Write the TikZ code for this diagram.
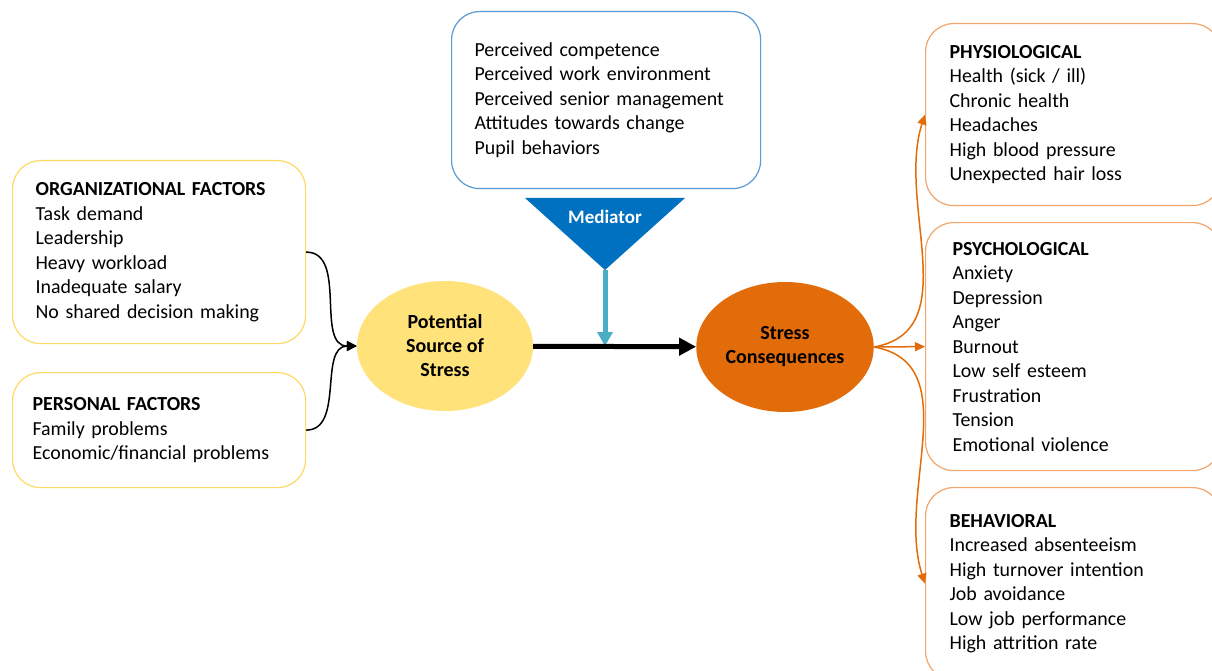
\documentclass[tikz,border=0pt]{standalone}
\usepackage{fontspec}
\setmainfont{Carlito}
\usetikzlibrary{arrows.meta}
\usetikzlibrary{positioning}
\usetikzlibrary{shapes.geometric}
\definecolor{mgold}{HTML}{FFD966}
\definecolor{mblue}{HTML}{5B9BD5}
\definecolor{mdarkblue}{HTML}{0070C0}
\definecolor{mlightblue}{HTML}{4BACC6}
\definecolor{mpeach}{HTML}{F2A66A}
\definecolor{myellow}{HTML}{FFE27A}
\definecolor{mrust}{HTML}{E36C0A}
\tikzset{
  listbox/.style={rounded corners=28pt, line width=1.2pt, align=left, anchor=north west,
    inner xsep=23pt, font=\fontsize{19.9}{24.5}\selectfont},
  bubble/.style={ellipse, minimum width=176pt, minimum height=130pt, align=center,
    font=\fontsize{20}{24}\selectfont\bfseries},
  feed/.style={-{Triangle[length=10pt,width=10pt]}, line width=1.5pt},
  spread/.style={-{Triangle[length=10pt,width=9pt]}, line width=1.5pt, mrust}
}

\begin{document}
\begin{tikzpicture}[x=1pt, y=-1pt]
      \useasboundingbox [fill=white] (0,0) rectangle (1212,671);

      \node [listbox, draw=mgold, minimum width=293pt, minimum height=183pt, text width=247pt] (org) at (12,160)
        {\textbf{ORGANIZATIONAL FACTORS}\\Task demand\\Leadership\\Heavy workload\\Inadequate salary\\No shared decision making};
      \node [listbox, draw=mgold, inner xsep=20pt, minimum width=293pt, minimum height=115pt, text width=253pt] (personal) at (12,372)
        {\textbf{PERSONAL FACTORS}\\Family problems\\Economic/financial problems};

      \node [listbox, draw=mblue, minimum width=309pt, minimum height=177pt, text width=263pt] (perceived) at (451,11)
        {Perceived competence\\Perceived work environment\\Perceived senior management\\Attitudes towards change\\Pupil behaviors};

      \node [bubble, fill=myellow] (source) at (445,346) {Potential\\Source of\\Stress};
      \node [bubble, fill=mrust] (stress) at (785,347) {Stress\\Consequences};

      \node [listbox, draw=mpeach, inner xsep=24pt, minimum width=295pt, minimum height=182pt, text width=247pt] (physio) at (925,23)
        {\textbf{PHYSIOLOGICAL}\\Health (sick / ill)\\Chronic health\\Headaches\\High blood pressure\\Unexpected hair loss};
      \node [listbox, draw=mpeach, inner xsep=27pt, minimum width=295pt, minimum height=248pt, text width=241pt] (psycho) at (925,222)
        {\textbf{PSYCHOLOGICAL}\\Anxiety\\Depression\\Anger\\Burnout\\Low self esteem\\Frustration\\Tension\\Emotional violence};
      \node [listbox, draw=mpeach, inner xsep=24pt, minimum width=295pt, minimum height=192pt, text width=247pt] (behav) at (925,487)
        {\textbf{BEHAVIORAL}\\Increased absenteeism\\High turnover intention\\Job avoidance\\Low job performance\\High attrition rate};

      \coordinate (tip) at (605,270);
      \fill [mdarkblue] (525,198) -- (685,198) -- (tip) -- cycle;
      \node [white, font=\fontsize{19}{24}\selectfont\bfseries] (mediator) at (605,217) {Mediator};

      \draw [-{Triangle[length=14pt,width=15pt]}, line width=5pt, mlightblue] (tip) -- (tip |- source.east);
      \draw [-{Triangle[length=17pt,width=17pt]}, line width=5pt] (source) -- (stress);

      \draw [feed] (org.east) to [out=0, in=180] (source.west);
      \draw [feed] (personal.east) to [out=0, in=180] (source.west);

      \draw [spread] (stress.east) to [out=10, in=252] (physio.west);
      \draw [spread] (stress.east) -- (psycho.west);
      \draw [spread] (stress.east) to [out=-10, in=108] (behav.west);
    \end{tikzpicture}
\end{document}
